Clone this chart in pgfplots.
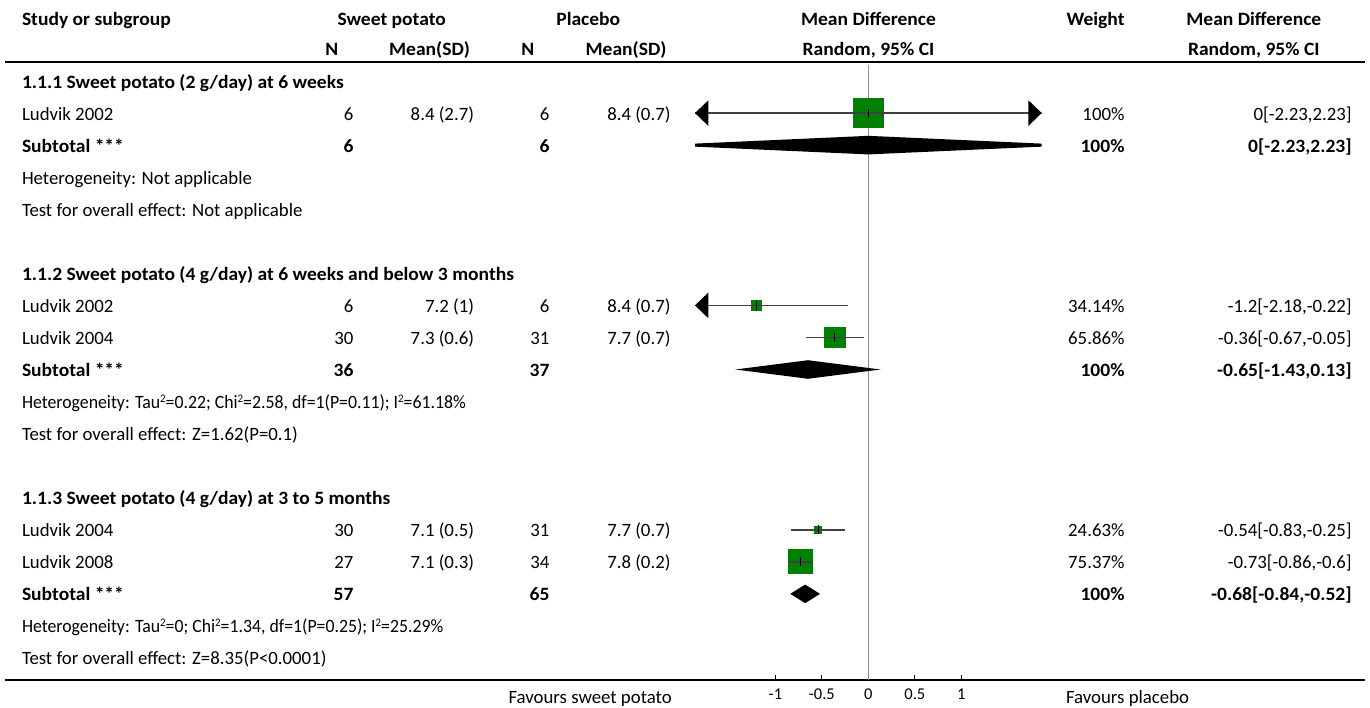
\documentclass[border=0pt]{standalone}
\usepackage{pgfplots}
\pgfplotsset{compat=1.18}
\usepackage{graphicx}
\usepackage{fontspec}
\setmainfont{Carlito}[BoldFeatures={FakeStretch=1.04}]
\definecolor{sqgreen}{HTML}{008000}
\definecolor{cigray}{HTML}{404040}
\definecolor{zerogray}{HTML}{8C8C8C}
\newcommand{\sqr}{\raisebox{0.72ex}{\fontsize{11.5pt}{12pt}\selectfont 2}}
\newcommand{\rowtext}[8]{%
  \node[anchor=base west] at (22,{88.5+32*#1}) {#2};
  \node[anchor=base east] at (353.5,{88.5+32*#1}) {#3};
  \node[anchor=base east] at (474,{88.5+32*#1}) {#4};
  \node[anchor=base east] at (549.5,{88.5+32*#1}) {#5};
  \node[anchor=base east] at (670.5,{88.5+32*#1}) {#6};
  \node[anchor=base east] at (1124.5,{88.5+32*#1}) {#7};
  \node[anchor=base east] at (1351.7,{88.5+32*#1}) {#8};}
\newcommand{\lefttext}[2]{\node[anchor=base west] at (22,{88.5+32*#1}) {#2};}
\pgfplotsset{sq/.style={fill=sqgreen, draw=none}}
\begin{document}
\begin{tikzpicture}[x=1pt,y=-1pt,every node/.style={inner sep=0pt,outer sep=0pt},font=\fontsize{18.8pt}{22pt}\selectfont]
\path (0,0) rectangle (1370,708);
\draw[line width=1.8pt] (5,62.3) -- (1365,62.3);
\draw[line width=1.5pt] (5,680) -- (1365,680);
\begin{axis}[at={(695pt,-680pt)}, anchor=south west, scale only axis,
  width=346.7pt, height=615pt,
  xmin=-1.865, xmax=1.865, ymin=-18.6875, ymax=0.5,
  axis x line=bottom, axis y line=none,
  axis line style={line width=2.2pt, black, -},
  xtick={-1,-0.5,0,0.5,1}, xticklabels={-1,-0.5,0,0.5,1},
  tick align=inside, major tick length=5pt,
  xtick style={line width=0.8pt, black},
  xticklabel style={anchor=base, yshift=-19.5pt, inner sep=0pt, font=\fontsize{16.5pt}{19pt}\selectfont},
  ytick=\empty, clip=true]
% zero line
\addplot[zerogray, line width=1pt] coordinates {(0,0.5) (0,-18.6875)};
% ---- 1.1.1  (square: estimate +/- half side)
\addplot[sq] coordinates {(-0.1651,-0.5203) (0.1651,-0.5203) (0.1651,-1.4797) (-0.1651,-1.4797)} --cycle;
\addplot[cigray, line width=1.7pt] coordinates {(-2.23,-1) (2.23,-1)};
\addplot[fill=black, draw=none] coordinates {(-1.865,-1) (-1.722,-0.6) (-1.722,-1.4)} --cycle;
\addplot[fill=black, draw=none] coordinates {(1.865,-1) (1.722,-0.6) (1.722,-1.4)} --cycle;
\addplot[black, line width=1pt] coordinates {(0,-0.86) (0,-1.14)};
\addplot[fill=black, draw=none] coordinates {(-2.23,-2) (0,-1.71) (2.23,-2) (0,-2.29)} --cycle;
% ---- 1.1.2
\addplot[sq] coordinates {(-1.2576,-6.8328) (-1.1424,-6.8328) (-1.1424,-7.1672) (-1.2576,-7.1672)} --cycle;
\addplot[cigray, line width=1.7pt] coordinates {(-2.18,-7) (-0.22,-7)};
\addplot[fill=black, draw=none] coordinates {(-1.865,-7) (-1.722,-6.6) (-1.722,-7.4)} --cycle;
\addplot[black, line width=1pt] coordinates {(-1.2,-6.86) (-1.2,-7.14)};
\addplot[sq] coordinates {(-0.4767,-7.6609) (-0.2433,-7.6609) (-0.2433,-8.3391) (-0.4767,-8.3391)} --cycle;
\addplot[cigray, line width=1.7pt] coordinates {(-0.67,-8) (-0.05,-8)};
\addplot[black, line width=1pt] coordinates {(-0.36,-7.86) (-0.36,-8.14)};
\addplot[fill=black, draw=none] coordinates {(-1.43,-9) (-0.65,-8.71) (0.13,-9) (-0.65,-9.29)} --cycle;
% ---- 1.1.3
\addplot[sq] coordinates {(-0.583,-13.875) (-0.497,-13.875) (-0.497,-14.125) (-0.583,-14.125)} --cycle;
\addplot[cigray, line width=1.7pt] coordinates {(-0.83,-14) (-0.25,-14)};
\addplot[black, line width=1pt] coordinates {(-0.54,-13.86) (-0.54,-14.14)};
\addplot[sq] coordinates {(-0.8645,-14.6094) (-0.5955,-14.6094) (-0.5955,-15.3906) (-0.8645,-15.3906)} --cycle;
\addplot[cigray, line width=1.7pt] coordinates {(-0.86,-15) (-0.6,-15)};
\addplot[black, line width=1pt] coordinates {(-0.73,-14.86) (-0.73,-15.14)};
\addplot[fill=black, draw=none] coordinates {(-0.84,-16) (-0.68,-15.71) (-0.52,-16) (-0.68,-16.29)} --cycle;
\end{axis}
% headers
\node[anchor=base west] at (22,25.5) {\bfseries Study or subgroup};
\node[anchor=base] at (391.7,25.5) {\bfseries Sweet potato};
\node[anchor=base] at (588.3,25.5) {\bfseries Placebo};
\node[anchor=base] at (868.5,25.5) {\bfseries Mean Difference};
\node[anchor=base] at (1095.5,25.5) {\bfseries Weight};
\node[anchor=base] at (1253.8,25.5) {\bfseries Mean Difference};
\node[anchor=base] at (331.7,55.5) {\bfseries N};
\node[anchor=base] at (429.5,55.5) {\bfseries Mean(SD)};
\node[anchor=base] at (527.7,55.5) {\bfseries N};
\node[anchor=base] at (626,55.5) {\bfseries Mean(SD)};
\node[anchor=base] at (868.5,55.5) {\bfseries Random, 95\% CI};
\node[anchor=base] at (1253.8,55.5) {\bfseries Random, 95\% CI};
% body
\lefttext{0}{\bfseries 1.1.1 Sweet potato (2 g/day) at 6 weeks}
\rowtext{1}{Ludvik 2002}{6}{8.4 (2.7)}{6}{8.4 (0.7)}{100\%}{0[-2.23,2.23]}
\rowtext{2}{\bfseries Subtotal ***}{\bfseries 6}{}{\bfseries 6}{}{\bfseries 100\%}{\bfseries 0[-2.23,2.23]}
\lefttext{3}{Heterogeneity: Not applicable}
\lefttext{4}{Test for overall effect: Not applicable}
\lefttext{6}{\bfseries 1.1.2 Sweet potato (4 g/day) at 6 weeks and below 3 months}
\rowtext{7}{Ludvik 2002}{6}{7.2 (1)}{6}{8.4 (0.7)}{34.14\%}{-1.2[-2.18,-0.22]}
\rowtext{8}{Ludvik 2004}{30}{7.3 (0.6)}{31}{7.7 (0.7)}{65.86\%}{-0.36[-0.67,-0.05]}
\rowtext{9}{\bfseries Subtotal ***}{\bfseries 36}{}{\bfseries 37}{}{\bfseries 100\%}{\bfseries -0.65[-1.43,0.13]}
\lefttext{10}{\scalebox{0.945}[1]{Heterogeneity: Tau\sqr=0.22; Chi\sqr=2.58, df=1(P=0.11); I\sqr=61.18\%}}
\lefttext{11}{Test for overall effect: Z=1.62(P=0.1)}
\lefttext{13}{\bfseries 1.1.3 Sweet potato (4 g/day) at 3 to 5 months}
\rowtext{14}{Ludvik 2004}{30}{7.1 (0.5)}{31}{7.7 (0.7)}{24.63\%}{-0.54[-0.83,-0.25]}
\rowtext{15}{Ludvik 2008}{27}{7.1 (0.3)}{34}{7.8 (0.2)}{75.37\%}{-0.73[-0.86,-0.6]}
\rowtext{16}{\bfseries Subtotal ***}{\bfseries 57}{}{\bfseries 65}{}{\bfseries 100\%}{\bfseries -0.68[-0.84,-0.52]}
\lefttext{17}{\scalebox{0.945}[1]{Heterogeneity: Tau\sqr=0; Chi\sqr=1.34, df=1(P=0.25); I\sqr=25.29\%}}
\lefttext{18}{Test for overall effect: Z=8.35(P<0.0001)}
% footer
\node[anchor=base east] at (671.7,703) {Favours sweet potato};
\node[anchor=base west] at (1066,703) {Favours placebo};
\end{tikzpicture}
\end{document}
